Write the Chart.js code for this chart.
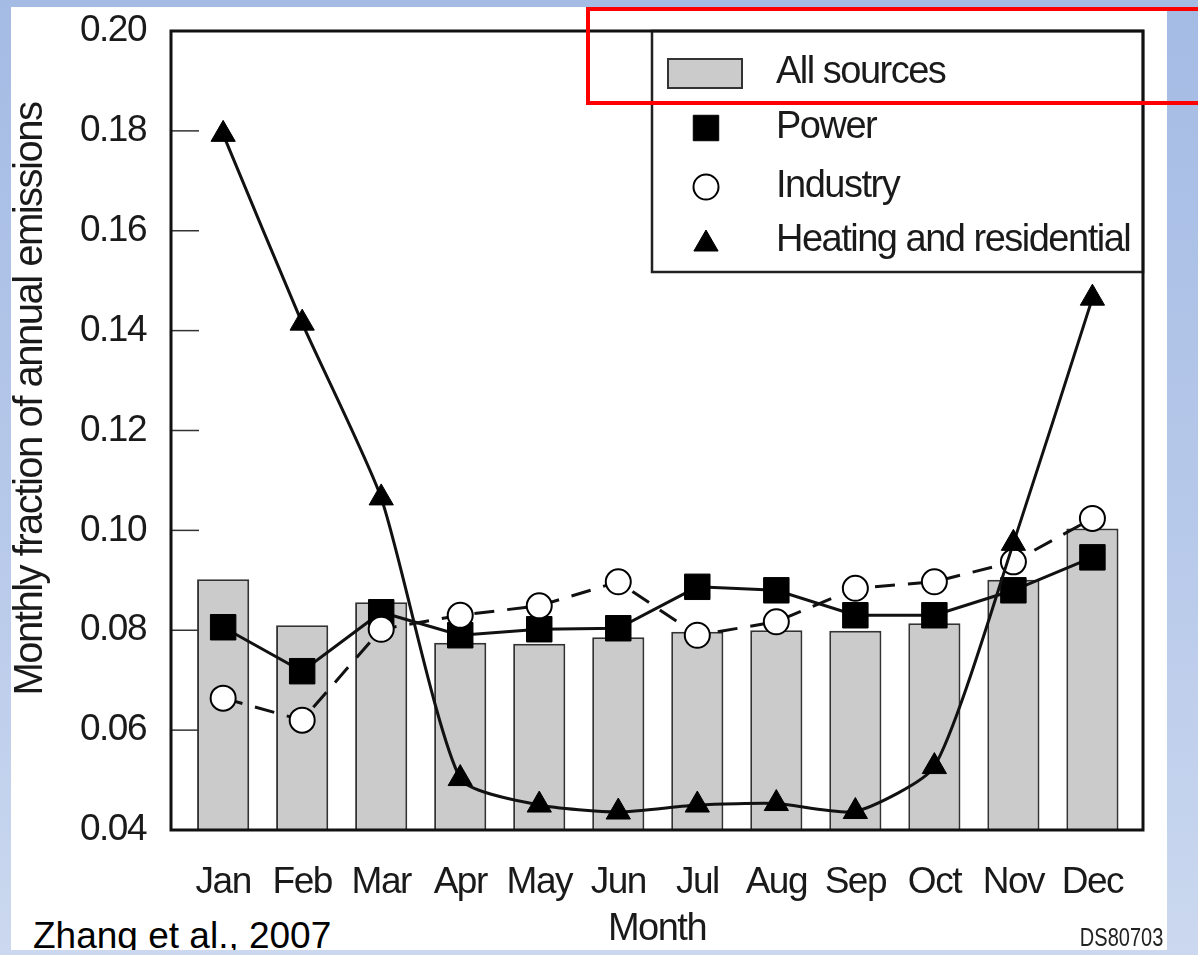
<!DOCTYPE html>
<html>
<head>
<meta charset="utf-8">
<title>Monthly fraction of annual emissions</title>
<script src="https://cdn.jsdelivr.net/npm/chart.js@4.4.1/dist/chart.umd.min.js"></script>
<style>
  html, body { margin: 0; padding: 0; }
  body {
    width: 1198px; height: 955px; overflow: hidden; position: relative;
    background: linear-gradient(180deg, #a4bbe4 0%, #b7c9ea 55%, #cbd8ef 100%);
  }
  .panel {
    position: absolute; left: 11px; top: 7px; width: 1156px; height: 943px;
    background: #fff; overflow: hidden;
  }
  .chart-box { position: absolute; left: 0; top: 0; width: 1198px; height: 955px; }
  .source {
    position: absolute; left: 22px; top: 910px;
    font: 37px/37px "Liberation Sans", Arial, sans-serif; color: #000; white-space: nowrap;
  }
  .code {
    position: absolute; right: 35px; top: 925px;
    font: 25px/25px "Liberation Sans", Arial, sans-serif; color: #222;
    transform: scaleX(0.8); transform-origin: right center;
  }
  .highlight {
    position: absolute; left: 586px; top: 7px; width: 700px; height: 90px;
    border: 4px solid #ff0000;
  }
</style>
</head>
<body>
<div class="panel">
  <div class="source">Zhang et al., 2007</div>
</div>
<div class="chart-box"><canvas id="emissionsChart"></canvas></div>
<div class="code">DS80703</div>
<div class="highlight"></div>

<script>
// Data (monthly fraction of annual emissions)
const months = ['Jan', 'Feb', 'Mar', 'Apr', 'May', 'Jun', 'Jul', 'Aug', 'Sep', 'Oct', 'Nov', 'Dec'];
const allSources = [0.0902, 0.0810, 0.0856, 0.0775, 0.0773, 0.0786, 0.0797, 0.0800, 0.0799, 0.0814, 0.0901, 0.1004];
const power      = [0.0806, 0.0718, 0.0836, 0.0790, 0.0802, 0.0804, 0.0887, 0.0880, 0.0830, 0.0830, 0.0880, 0.0946];
const industry   = [0.0664, 0.0620, 0.0802, 0.0830, 0.0849, 0.0897, 0.0790, 0.0817, 0.0884, 0.0897, 0.0937, 0.1024];
const heating    = [0.1793, 0.1415, 0.1065, 0.0503, 0.0450, 0.0436, 0.0450, 0.0453, 0.0437, 0.0527, 0.0974, 0.1465];
const yMin = 0.04, yMax = 0.20, yStep = 0.02;

const sans = '"Liberation Sans", Arial, sans-serif';
Chart.defaults.font.family = sans;
Chart.defaults.color = '#1a1a1a';

const toPoints = arr => arr.map((v, i) => ({ x: i, y: v }));

// tighter lettering, closer to the condensed face of the original
const tightText = {
    id: 'tightText',
    beforeUpdate(chart) { chart.ctx.letterSpacing = '-1.5px'; },
    beforeDraw(chart) { chart.ctx.letterSpacing = '-1.5px'; }
};

// Frame, inward ticks, boxed legend and the rotated y title
const frameAndLegend = {
    id: 'frameAndLegend',
    beforeDatasetsDraw(chart) {
        const { ctx, chartArea: a, scales } = chart;
        ctx.save();
        ctx.strokeStyle = '#333';
        ctx.lineWidth = 1.5;
        scales.y.ticks.forEach(t => {
            const py = scales.y.getPixelForValue(t.value);
            ctx.beginPath();
            ctx.moveTo(a.left, py);
            ctx.lineTo(a.left + 28, py);
            ctx.stroke();
        });
        ctx.restore();
    },
    afterDatasetsDraw(chart) {
        const { ctx, chartArea: a } = chart;
        const ds = chart.data.datasets;
        ctx.save();

        // legend box
        const lx = a.right - 491, ly = a.top, lh = 241;
        ctx.fillStyle = '#fff';
        ctx.fillRect(lx, ly, a.right - lx, lh);
        ctx.strokeStyle = '#222';
        ctx.lineWidth = 2.5;
        ctx.strokeRect(lx, ly, a.right - lx, lh);

        const rows = [42, 97, 156, 210];
        const mx = lx + 54, tx = lx + 124;
        ds.forEach((d, i) => {
            const y = ly + rows[i];
            if (d.type === 'bar') {
                ctx.fillStyle = d.backgroundColor;
                ctx.strokeStyle = d.borderColor;
                ctx.lineWidth = 2;
                ctx.fillRect(lx + 16, y - 14, 74, 29);
                ctx.strokeRect(lx + 16, y - 14, 74, 29);
            } else {
                ctx.fillStyle = d.pointBackgroundColor;
                ctx.strokeStyle = d.pointBorderColor;
                ctx.lineWidth = d.pointBorderWidth;
                const off = d.pointStyle === 'triangle' ? 3 : 0;
                Chart.helpers.drawPoint(ctx, {
                    pointStyle: d.pointStyle, radius: d.pointRadius,
                    rotation: 0, borderWidth: d.pointBorderWidth
                }, mx, y + off);
            }
            ctx.fillStyle = '#1a1a1a';
            ctx.font = '38px ' + sans;
            ctx.textAlign = 'left';
            ctx.textBaseline = 'middle';
            ctx.fillText(d.label, tx, y);
        });

        // plot frame
        ctx.strokeStyle = '#111';
        ctx.lineWidth = 3;
        ctx.strokeRect(a.left, a.top, a.right - a.left, a.bottom - a.top);

        // y axis title
        ctx.translate(31, 399);
        ctx.rotate(-Math.PI / 2);
        ctx.fillStyle = '#1a1a1a';
        ctx.font = '40px ' + sans;
        ctx.textAlign = 'center';
        ctx.textBaseline = 'middle';
        ctx.fillText('Monthly fraction of annual emissions', 0, 0);
        ctx.restore();
    }
};

function createEmissionsChart() {
    const ctx = document.getElementById('emissionsChart').getContext('2d');
    new Chart(ctx, {
        type: 'bar',
        data: {
            datasets: [{
                type: 'bar',
                label: 'All sources',
                data: toPoints(allSources),
                backgroundColor: '#cbcbcb',
                borderColor: '#333',
                borderWidth: 2,
                barPercentage: 0.66,
                categoryPercentage: 1,
                order: 4
            }, {
                type: 'line',
                label: 'Power',
                data: toPoints(power),
                borderColor: '#111',
                borderWidth: 3,
                pointStyle: 'rect',
                pointRadius: 18,
                pointBackgroundColor: '#000',
                pointBorderColor: '#000',
                pointBorderWidth: 1,
                tension: 0,
                order: 3
            }, {
                type: 'line',
                label: 'Industry',
                data: toPoints(industry),
                borderColor: '#111',
                borderWidth: 3,
                borderDash: [20, 13],
                pointStyle: 'circle',
                pointRadius: 12.5,
                pointBackgroundColor: '#fff',
                pointBorderColor: '#000',
                pointBorderWidth: 2,
                tension: 0,
                order: 2
            }, {
                type: 'line',
                label: 'Heating and residential',
                data: toPoints(heating),
                borderColor: '#111',
                borderWidth: 3,
                pointStyle: 'triangle',
                pointRadius: 14,
                pointBackgroundColor: '#000',
                pointBorderColor: '#000',
                pointBorderWidth: 1,
                tension: 0.2,
                order: 1
            }]
        },
        options: {
            responsive: true,
            maintainAspectRatio: false,
            animation: false,
            events: [],
            layout: { padding: { left: 0, top: 31, right: 55, bottom: 0 } },
            plugins: {
                legend: { display: false },
                tooltip: { enabled: false }
            },
            scales: {
                x: {
                    type: 'linear',
                    offset: false,
                    min: -0.66,
                    max: 11.64,
                    grid: { display: false, offset: false },
                    border: { display: false },
                    afterFit: scale => { scale.height = 125; scale.paddingLeft = 0; scale.paddingRight = 0; },
                    ticks: {
                        stepSize: 1,
                        includeBounds: false,
                        autoSkip: false,
                        maxRotation: 0,
                        padding: 23,
                        font: { size: 37 },
                        callback: v => months[v] ?? ''
                    },
                    title: {
                        display: true,
                        text: 'Month',
                        font: { size: 38 },
                        padding: { top: 0, bottom: 3 }
                    }
                },
                y: {
                    min: yMin,
                    max: yMax,
                    grid: { display: false },
                    border: { display: false },
                    afterFit: scale => { scale.width = 171; scale.paddingTop = 0; scale.paddingBottom = 0; },
                    ticks: {
                        stepSize: yStep,
                        padding: 17,
                        font: { size: 37 },
                        callback: v => v.toFixed(2)
                    }
                }
            }
        },
        plugins: [tightText, frameAndLegend]
    });
}

document.addEventListener('DOMContentLoaded', createEmissionsChart);
</script>
</body>
</html>
